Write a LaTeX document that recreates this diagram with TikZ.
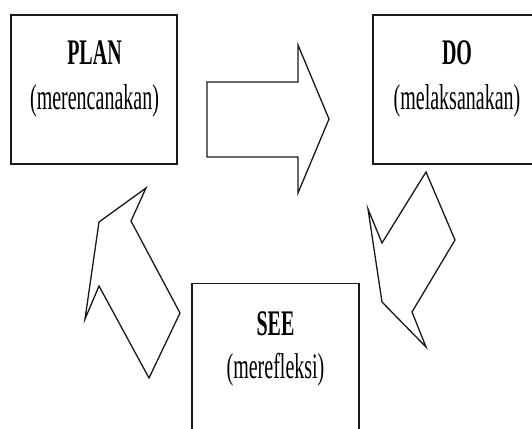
\documentclass[tikz,border=0pt]{standalone}
\usepackage{graphicx}
\usepackage{fontspec}
\setmainfont{Liberation Serif}
\newcommand\tallText[1]{\scalebox{1}[1.8]{#1}}
\begin{document}
\begin{tikzpicture}[x=1pt,y=-1pt,
  box/.style={draw=black!90,line width=1.6pt,rectangle,inner sep=0pt},
  blockarrow/.style={draw=black!90,line width=1.3pt,line join=miter,fill=white},
  lbl/.style={anchor=base,inner sep=0pt,font=\fontsize{20}{24}\selectfont},
  ttl/.style={lbl,font=\fontsize{20}{24}\selectfont\bfseries}]
\useasboundingbox (0,0) rectangle (532,428);
\clip (0,0) rectangle (532,428);
\fill[white] (0,0) rectangle (532,428);
% boxes
\node[box,minimum width=166pt,minimum height=149pt] (plan) at (94,89.5) {};
\node[box,minimum width=168pt,minimum height=149pt] (do) at (457,89.5) {};
\node[box,minimum width=167pt,minimum height=146pt] (see) at (275.5,356.5) {};
% labels
\node[ttl] (planT) at (94.5,64) {\tallText{PLAN}};
\node[lbl] (planS) at (94.5,109) {\tallText{(merencanakan)}};
\node[ttl] (doT) at (457,64) {\tallText{DO}};
\node[lbl] (doS) at (457,109) {\tallText{(melaksanakan)}};
\node[ttl] (seeT) at (275.5,335) {\tallText{SEE}};
\node[lbl] (seeS) at (275.5,378) {\tallText{(merefleksi)}};
% block arrows
\draw[blockarrow] (207,82) -- (298,82) -- (298,45) -- (329,119) -- (298,193) -- (298,157) -- (207,157) -- cycle;
\draw[blockarrow] (426,172) -- (455,240) -- (412,312) -- (426,347) -- (382,302) -- (368,209) -- (382,243) -- cycle;
\draw[blockarrow] (146,188) -- (131,221) -- (180,313) -- (149,378) -- (99,286) -- (85,319) -- (99,222) -- cycle;
\end{tikzpicture}
\end{document}
